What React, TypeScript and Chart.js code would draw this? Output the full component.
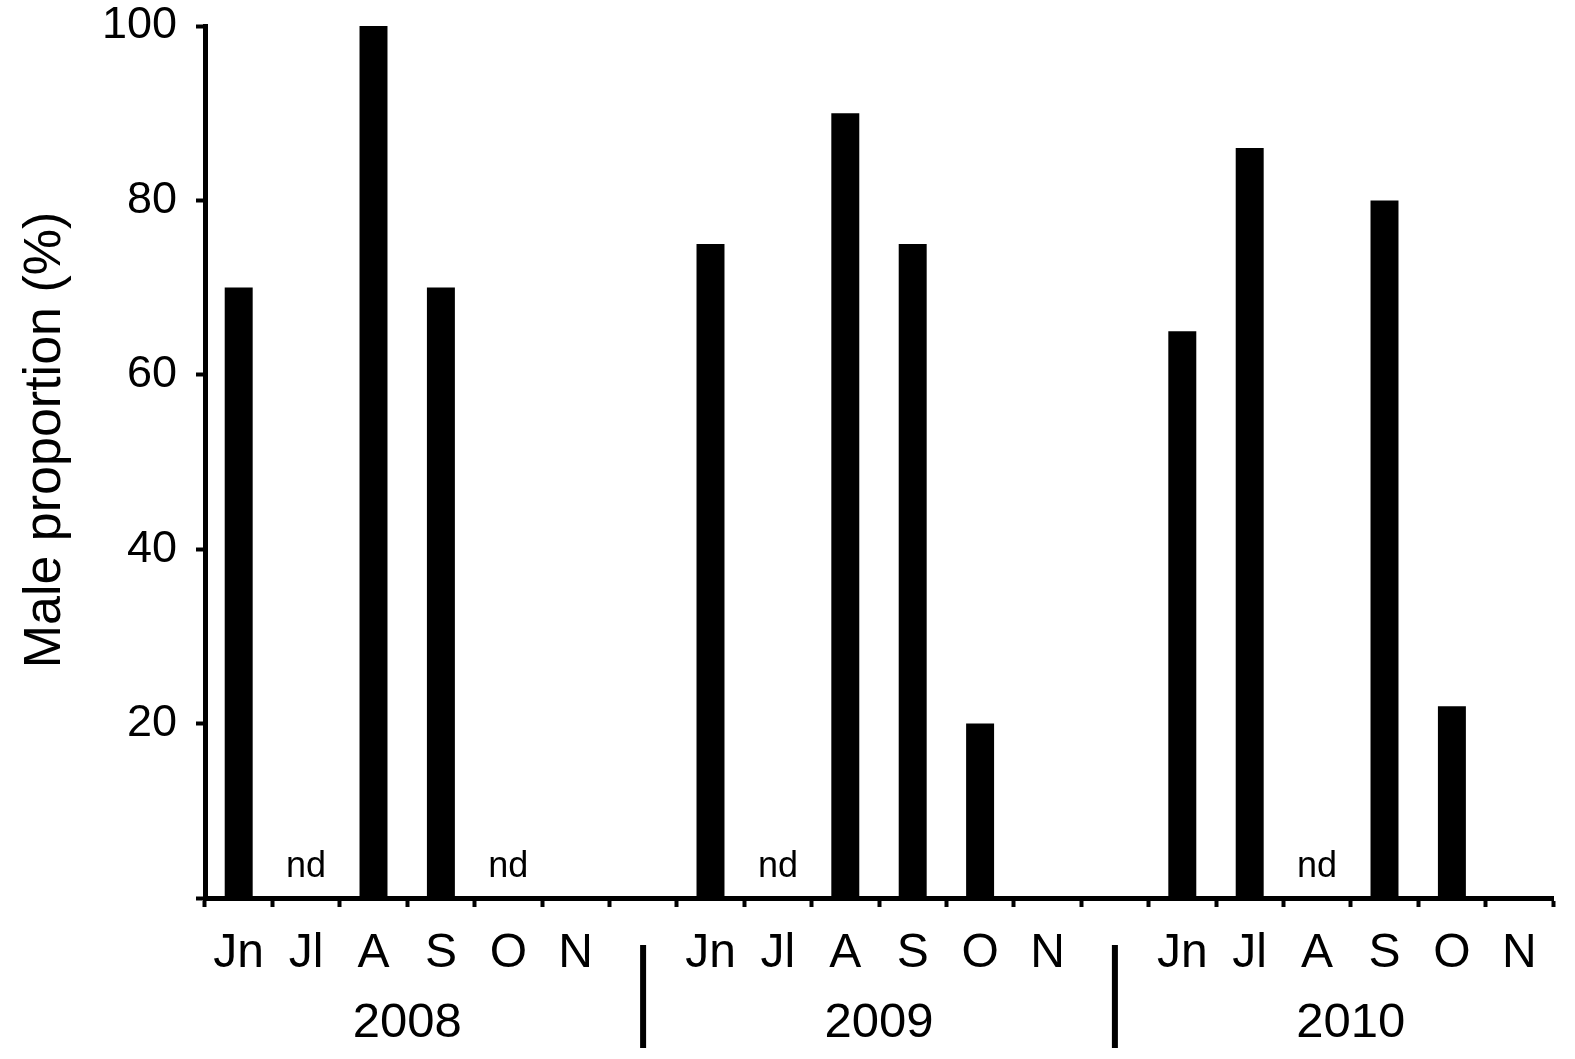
import React, { useEffect, useRef } from "react";
import { Chart, registerables } from "chart.js";

Chart.register(...registerables);

const months = ["Jn", "Jl", "A", "S", "O", "N"];
const years = ["2008", "2009", "2010"];
const values2008 = [70, null, 100, 70, null, null];
const values2009 = [75, null, 90, 75, 20, null];
const values2010 = [65, 86, null, 80, 22, null];
const nd2008 = [false, true, false, false, true, false];
const nd2009 = [false, true, false, false, false, false];
const nd2010 = [false, false, true, false, false, false];
const yTicks = [0, 20, 40, 60, 80, 100];
const yTitle = "Male proportion (%)";

const FONT = "'Liberation Sans', Arial, sans-serif";

const yearValues = [values2008, values2009, values2010];
const yearNd = [nd2008, nd2009, nd2010];

const labels: string[] = [];
const data: (number | null)[] = [];
const ndFlags: boolean[] = [];
const gapIndices: number[] = [];
const yearCenters: number[][] = [];
years.forEach((_, yi) => {
  const start = labels.length;
  months.forEach((m, mi) => {
    labels.push(m);
    data.push(yearValues[yi][mi]);
    ndFlags.push(yearNd[yi][mi]);
  });
  yearCenters.push([start + 2, start + 3]);
  if (yi < years.length - 1) {
    gapIndices.push(labels.length);
    labels.push("");
    data.push(null);
    ndFlags.push(false);
  }
});

const overlay = {
  id: "overlay",
  afterDraw(chart: any) {
    const ctx = chart.ctx;
    const x = chart.scales.x;
    ctx.save();
    ctx.fillStyle = "#000";
    // nd labels
    ctx.font = `36px ${FONT}`;
    ctx.textAlign = "center";
    ctx.textBaseline = "alphabetic";
    ndFlags.forEach((f, i) => {
      if (f) ctx.fillText("nd", x.getPixelForValue(i), 877);
    });
    // year labels
    ctx.font = `49px ${FONT}`;
    years.forEach((yr, yi) => {
      const [a, b] = yearCenters[yi];
      const cx = (x.getPixelForValue(a) + x.getPixelForValue(b)) / 2;
      ctx.fillText(yr, cx, 1037);
    });
    // separators
    gapIndices.forEach((g) => {
      const gx = x.getPixelForValue(g);
      ctx.fillRect(gx - 3, 945, 6, 103);
    });
    // y title
    ctx.translate(60, 440);
    ctx.rotate(-Math.PI / 2);
    ctx.font = `52px ${FONT}`;
    ctx.textAlign = "center";
    ctx.textBaseline = "alphabetic";
    ctx.fillText(yTitle, 0, 0);
    ctx.restore();
  },
};

export default function App() {
  const ref = useRef<HTMLCanvasElement | null>(null);
  useEffect(() => {
    if (!ref.current) return;
    const chart = new Chart(ref.current, {
      type: "bar",
      data: {
        labels,
        datasets: [
          {
            data,
            backgroundColor: "#000",
            borderWidth: 0,
            barPercentage: 0.415,
            categoryPercentage: 1,
          },
        ],
      },
      options: {
        animation: false,
        responsive: false,
        layout: { padding: { top: 26, right: 22, left: 0, bottom: 0 } },
        plugins: { legend: { display: false }, tooltip: { enabled: false } },
        scales: {
          x: {
            grid: {
              display: true,
              drawOnChartArea: false,
              drawTicks: true,
              tickLength: 9,
              tickWidth: 4,
              tickColor: "#000",
              offset: true,
            },
            border: { display: true, color: "#000", width: 5 },
            ticks: {
              color: "#000",
              font: { family: FONT, size: 48 },
              padding: 18,
              autoSkip: false,
              maxRotation: 0,
            },
            afterFit(scale: any) {
              scale.height = 161;
              scale.paddingLeft = 0;
              scale.paddingRight = 0;
            },
          },
          y: {
            min: 0,
            max: 100,
            afterBuildTicks(scale: any) {
              scale.ticks = yTicks.map((v) => ({ value: v }));
            },
            grid: {
              display: true,
              drawOnChartArea: false,
              drawTicks: true,
              tickLength: 9,
              tickWidth: 4,
              tickColor: "#000",
            },
            border: { display: true, color: "#000", width: 5 },
            ticks: {
              color: "#000",
              font: { family: FONT, size: 45 },
              padding: 19,
              callback: (v: any) => (v === 0 ? "" : String(v)),
            },
            afterFit(scale: any) {
              scale.width = 205;
              scale.paddingTop = 0;
              scale.paddingBottom = 0;
            },
          },
        },
      },
      plugins: [overlay],
    });
    return () => chart.destroy();
  }, []);
  return (
    <canvas
      ref={ref}
      width={1575}
      height={1059}
      style={{ position: "absolute", left: 0, top: 0, display: "block" }}
    />
  );
}
